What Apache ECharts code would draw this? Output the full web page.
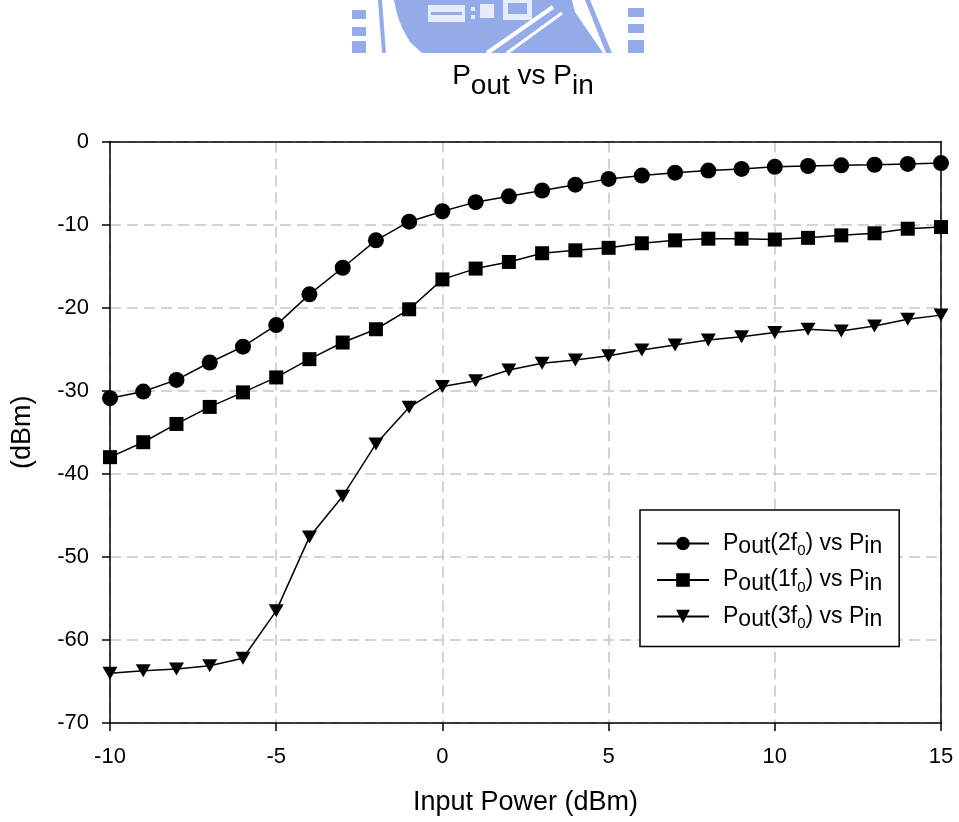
<!DOCTYPE html>
<html>
<head>
<meta charset="utf-8">
<style>
html,body{margin:0;padding:0;background:#fff;}
#chart{width:959px;height:822px;}
</style>
<script src="https://cdn.jsdelivr.net/npm/echarts@6/dist/echarts.min.js"></script>
</head>
<body>
<div id="chart"></div>
<script>
// ---- data ----
const inputPower = [-10,-9,-8,-7,-6,-5,-4,-3,-2,-1,0,1,2,3,4,5,6,7,8,9,10,11,12,13,14,15];
const pout2f0 = [-30.9,-30.1,-28.7,-26.6,-24.7,-22.1,-18.4,-15.2,-11.9,-9.65,-8.4,-7.3,-6.6,-5.9,-5.2,-4.5,-4.1,-3.75,-3.5,-3.3,-3.05,-2.95,-2.87,-2.8,-2.7,-2.6];
const pout1f0 = [-38.0,-36.2,-34.0,-31.95,-30.2,-28.4,-26.2,-24.2,-22.6,-20.2,-16.6,-15.3,-14.5,-13.45,-13.1,-12.8,-12.25,-11.9,-11.7,-11.7,-11.8,-11.6,-11.3,-11.05,-10.5,-10.3];
const pout3f0 = [-64.0,-63.7,-63.5,-63.1,-62.2,-56.5,-47.6,-42.7,-36.4,-32.0,-29.5,-28.8,-27.5,-26.7,-26.3,-25.8,-25.1,-24.5,-23.9,-23.5,-23.0,-22.6,-22.8,-22.2,-21.4,-20.9];
const seriesNames = ['Pout(2f0) vs Pin', 'Pout(1f0) vs Pin', 'Pout(3f0) vs Pin'];
const legendRich = {
  'Pout(2f0) vs Pin': '{n|P}{s|out}{n|(2f}{z|0}{n|) vs P}{s|in}',
  'Pout(1f0) vs Pin': '{n|P}{s|out}{n|(1f}{z|0}{n|) vs P}{s|in}',
  'Pout(3f0) vs Pin': '{n|P}{s|out}{n|(3f}{z|0}{n|) vs P}{s|in}'
};
const xTickMin = -10, xTickMax = 15, xTickStep = 5;
const yTickMin = -70, yTickMax = 0, yTickStep = 10;

const FONT = '"Liberation Sans", Arial, Helvetica, sans-serif';
function pairs(ys){ return inputPower.map((x,i)=>[x, ys[i]]); }

const chart = echarts.init(document.getElementById('chart'), null, {renderer:'canvas'});
const wm = '#93abe9';
const wmLight = '#e6ecfa';
const frameAxis = {
  show: true,
  axisLine: {show: true, onZero: false, lineStyle: {color: '#000', width: 1.5}},
  axisTick: {show: false}, axisLabel: {show: false}, splitLine: {show: false}
};
const option = {
  backgroundColor: '#fff',
  animation: false,
  title: {
    text: '{n|P}{s|out}{n| vs P}{s|in}',
    left: 523, top: 52, padding: 0, textAlign: 'center',
    textStyle: {
      fontWeight: 'normal',
      rich: {
        n: {fontSize: 28, lineHeight: 48, fontWeight: 'normal', fontFamily: FONT, color: '#000'},
        s: {fontSize: 28, lineHeight: 22, verticalAlign: 'bottom', fontWeight: 'normal', fontFamily: FONT, color: '#000'}
      }
    }
  },
  graphic: [
    // faint logo watermark at the top
    {type:'rect', shape:{x:352,y:10,width:14,height:9}, style:{fill:wm}},
    {type:'rect', shape:{x:352,y:27,width:14,height:9}, style:{fill:wm}},
    {type:'rect', shape:{x:352,y:41,width:14,height:12}, style:{fill:wm}},
    {type:'polygon', shape:{points:[[378,0],[382,0],[386,53],[382,53]]}, style:{fill:wm}},
    {type:'polygon', shape:{points:[[394,0],[572,0],[575,12],[603,53],[422,53],[410,42],[402,28],[397,14]]}, style:{fill:wm}},
    {type:'rect', shape:{x:428,y:5,width:37,height:17}, style:{fill:wmLight}},
    {type:'rect', shape:{x:431,y:12,width:31,height:3}, style:{fill:wm}},
    {type:'rect', shape:{x:471,y:7,width:4,height:4}, style:{fill:wmLight}},
    {type:'rect', shape:{x:471,y:15,width:4,height:4}, style:{fill:wmLight}},
    {type:'rect', shape:{x:480,y:4,width:14,height:14}, style:{fill:wmLight}},
    {type:'rect', shape:{x:503,y:0,width:29,height:20}, style:{fill:wmLight}},
    {type:'rect', shape:{x:508,y:3,width:19,height:11}, style:{fill:wm}},
    {type:'polyline', shape:{points:[[487,53],[553,7]]}, style:{stroke:'#fff', lineWidth:4}},
    {type:'polyline', shape:{points:[[507,53],[562,13]]}, style:{stroke:'#fff', lineWidth:3}},
    {type:'polygon', shape:{points:[[585,0],[590,0],[612,53],[606,53]]}, style:{fill:wm}},
    {type:'rect', shape:{x:628,y:8,width:16,height:9}, style:{fill:wm}},
    {type:'rect', shape:{x:628,y:24,width:16,height:9}, style:{fill:wm}},
    {type:'rect', shape:{x:628,y:40,width:16,height:13}, style:{fill:wm}}
  ],
  grid: {
    left: 110, right: 18, top: 141.5, bottom: 99, show: false
  },
  xAxis: [{
    type: 'value', min: xTickMin, max: xTickMax, interval: xTickStep, position: 'bottom',
    name: 'Input Power (dBm)', nameLocation: 'middle', nameGap: 66,
    nameTextStyle: {fontSize: 27, fontFamily: FONT, color: '#000'},
    axisLine: {show: true, onZero: false, lineStyle: {color: '#000', width: 1.5}},
    axisTick: {show: true, length: 8, lineStyle: {color: '#000', width: 1.5}},
    axisLabel: {fontSize: 22, fontFamily: FONT, color: '#000', margin: 23},
    splitLine: {show: true, lineStyle: {color: '#c6c6c6', width: 1.5, type: [11, 6]}}
  }, Object.assign({type: 'value', min: xTickMin, max: xTickMax, interval: xTickStep, position: 'top'}, frameAxis)],
  yAxis: [{
    type: 'value', min: yTickMin, max: yTickMax, interval: yTickStep, position: 'left',
    name: '(dBm)', nameLocation: 'middle', nameGap: 74, nameRotate: 90,
    nameTextStyle: {fontSize: 27, fontFamily: FONT, color: '#000'},
    axisLine: {show: true, onZero: false, lineStyle: {color: '#000', width: 1.5}},
    axisTick: {show: true, length: 8, lineStyle: {color: '#000', width: 1.5}},
    axisLabel: {fontSize: 22, fontFamily: FONT, color: '#000', margin: 21},
    splitLine: {show: true, lineStyle: {color: '#c6c6c6', width: 1.5, type: [11, 6]}}
  }, Object.assign({type: 'value', min: yTickMin, max: yTickMax, interval: yTickStep, position: 'right'}, frameAxis)],
  legend: {
    orient: 'vertical', left: 640, top: 510,
    padding: [22, 17, 15, 16], itemGap: 10,
    itemWidth: 52, itemHeight: 17,
    borderColor: '#000', borderWidth: 1.5, backgroundColor: '#fff',
    data: seriesNames,
    formatter: function(name){ return legendRich[name]; },
    textStyle: {
      padding: [0, 0, 0, 9],
      rich: {
        n: {fontSize: 23, lineHeight: 30, fontFamily: FONT, color: '#000'},
        s: {fontSize: 23, lineHeight: 20, verticalAlign: 'bottom', fontFamily: FONT, color: '#000'},
        z: {fontSize: 15, lineHeight: 13, verticalAlign: 'bottom', fontFamily: FONT, color: '#000'}
      }
    }
  },
  series: [
    {name: seriesNames[0], type: 'line', data: pairs(pout2f0), symbol: 'circle', symbolSize: 16,
     lineStyle: {color: '#000', width: 1.5}, itemStyle: {color: '#000'}},
    {name: seriesNames[1], type: 'line', data: pairs(pout1f0), symbol: 'rect', symbolSize: 14,
     lineStyle: {color: '#000', width: 1.5}, itemStyle: {color: '#000'}},
    {name: seriesNames[2], type: 'line', data: pairs(pout3f0), symbol: 'triangle', symbolRotate: 180, symbolSize: [15, 13],
     lineStyle: {color: '#000', width: 1.5}, itemStyle: {color: '#000'}}
  ]
};
chart.setOption(option);
</script>
</body>
</html>
